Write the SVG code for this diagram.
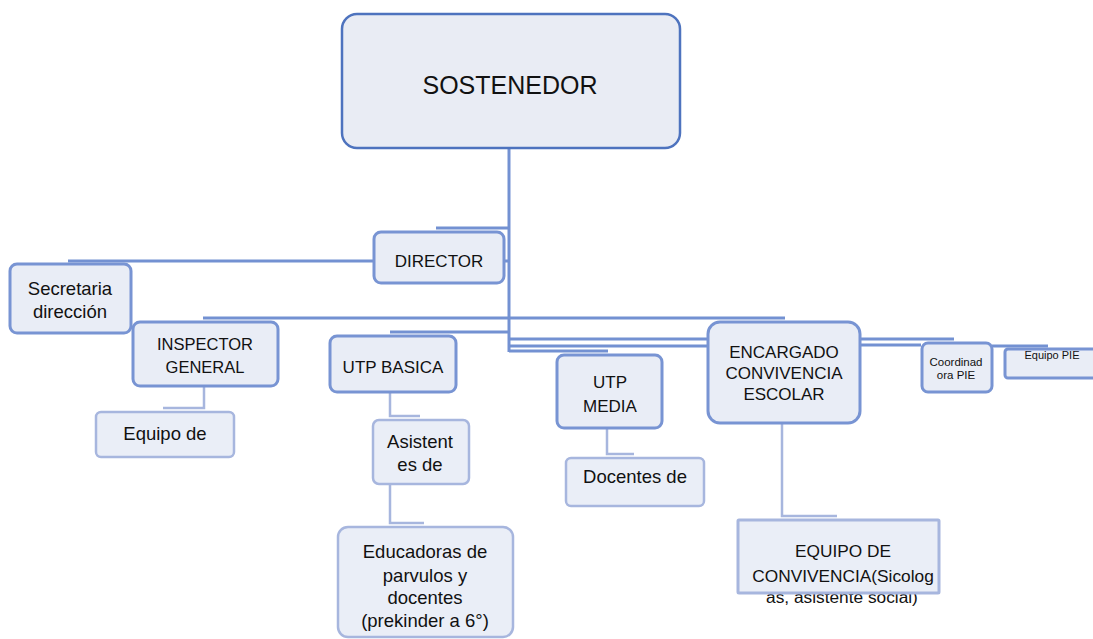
<svg xmlns="http://www.w3.org/2000/svg" width="1093" height="639" viewBox="0 0 1093 639">
<style>
.box{fill:#E9EDF6;stroke:#7894D3;stroke-width:3}
.main{fill:#E9ECF4;stroke:#4E73BE;stroke-width:2.5}
.lt{fill:#EAEEF7;stroke:#A7B6DE;stroke-width:2.5}
.ln{fill:none;stroke:#7391D2;stroke-width:3}
.ll{fill:none;stroke:#A7B6DE;stroke-width:2.5}
text{font-family:"Liberation Sans",Arial,sans-serif;fill:#111;text-anchor:middle}
.c{font-size:17px}
.l{font-size:18.5px}
.s{font-size:11.5px}
</style>
<rect width="1093" height="639" fill="#fff"/>
<g id="connectors">
<path class="ln" d="M509,148 V352"/>
<path class="ln" d="M436,228 H509"/>
<path class="ln" d="M504,261 H509"/>
<path class="ln" d="M68,261 H373"/>
<path class="ln" d="M203,318 H785"/>
<path class="ln" d="M390,332 H509"/>
<path class="ln" d="M509,339 H708"/>
<path class="ln" d="M509,346 H708"/>
<path class="ln" d="M509,351 H608"/>
<path class="ln" d="M860,339 H954"/>
<path class="ln" d="M860,345 H921"/>
<path class="ln" d="M992,346 H1048"/>
<path class="ll" d="M204,386 V408 H163"/>
<path class="ll" d="M390,392 V416 H420"/>
<path class="ll" d="M390,484 V523 H424"/>
<path class="ll" d="M607,428 V454 H634"/>
<path class="ll" d="M782,423 V516 H837"/>
</g>
<g id="sostenedor">
<rect class="main" x="342" y="14" width="338" height="134" rx="15"/>
<text x="510" y="94" font-size="25">SOSTENEDOR</text>
</g>
<g id="director">
<rect class="box" x="374" y="232" width="130" height="51" rx="7"/>
<text class="c" x="439" y="267" font-size="16.5">DIRECTOR</text>
</g>
<g id="secretaria">
<rect class="box" x="10" y="264" width="121" height="69" rx="7"/>
<text class="l" x="70" y="295">Secretaria</text>
<text class="l" x="70" y="318">dirección</text>
</g>
<g id="inspector">
<rect class="box" x="133" y="322" width="145" height="64" rx="7"/>
<text class="c" x="205" y="350" style="font-size:16.5px">INSPECTOR</text>
<text class="c" x="205" y="373" style="font-size:16.5px">GENERAL</text>
</g>
<g id="equipo-de">
<rect class="lt" x="96" y="412" width="138" height="45" rx="5"/>
<text class="l" x="165" y="440">Equipo de</text>
</g>
<g id="utp-basica">
<rect class="box" x="330" y="336" width="126" height="56" rx="7"/>
<text class="c" x="393" y="373">UTP BASICA</text>
</g>
<g id="asistentes">
<rect class="lt" x="373" y="420" width="96" height="64" rx="6"/>
<text class="l" x="420" y="448">Asistent</text>
<text class="l" x="420" y="471">es de</text>
</g>
<g id="educadoras">
<rect class="lt" x="338" y="527" width="175" height="110" rx="10"/>
<text class="l" x="425" y="558">Educadoras de</text>
<text class="l" x="425" y="582">parvulos y</text>
<text class="l" x="425" y="604">docentes</text>
<text class="l" x="425" y="627">(prekinder a 6°)</text>
</g>
<g id="utp-media">
<rect class="box" x="557" y="355" width="105" height="73" rx="7"/>
<text class="c" x="610" y="388">UTP</text>
<text class="c" x="610" y="412">MEDIA</text>
</g>
<g id="docentes">
<rect class="lt" x="566" y="458" width="138" height="48" rx="5"/>
<text class="l" x="635" y="483">Docentes de</text>
</g>
<g id="encargado">
<rect class="box" x="708" y="322" width="152" height="101" rx="12"/>
<text class="c" x="784" y="358">ENCARGADO</text>
<text class="c" x="784" y="379">CONVIVENCIA</text>
<text class="c" x="784" y="400">ESCOLAR</text>
</g>
<g id="equipo-convivencia">
<text x="842" y="603" font-size="17.3">as, asistente social)</text>
<rect class="lt" x="738" y="520" width="201" height="73" rx="1" style="stroke-width:3"/>
<text x="843" y="557" font-size="17.3">EQUIPO DE</text>
<text x="843" y="582" font-size="17.3">CONVIVENCIA(Sicolog</text>
</g>
<g id="coordinadora">
<rect class="box" x="922" y="343" width="70" height="49" rx="6"/>
<text class="s" x="956" y="366">Coordinad</text>
<text class="s" x="956" y="379">ora PIE</text>
</g>
<g id="equipo-pie">
<rect class="box" x="1005" y="349" width="95" height="29" rx="3"/>
<text x="1052" y="359" font-size="11">Equipo PIE</text>
</g>
</svg>
